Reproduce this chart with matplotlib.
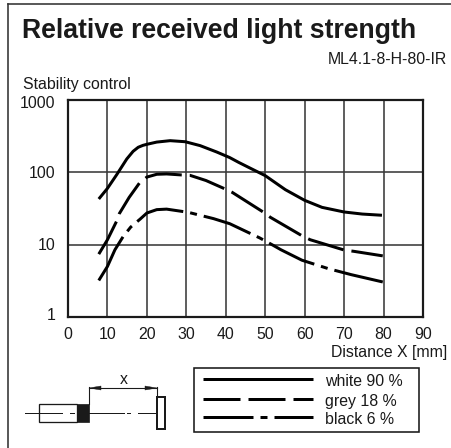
import matplotlib
matplotlib.use("Agg")
import matplotlib.pyplot as plt
from matplotlib.patches import Rectangle, Polygon
from matplotlib.transforms import ScaledTranslation

plt.rcParams['font.family'] = ['Liberation Sans', 'DejaVu Sans']
plt.rcParams['lines.scale_dashes'] = False

W, H = 452, 448
INK = '#1a1a1a'

title = 'Relative received light strength'
subtitle = 'ML4.1-8-H-80-IR'
ylabel = 'Stability control'
xlabel = 'Distance X [mm]'
xticks = [0, 10, 20, 30, 40, 50, 60, 70, 80, 90]
yticks = [1, 10, 100, 1000]
ytick_labels = ['1', '10', '100', '1000']
legend_labels = ['white 90 %', 'grey 18 %', 'black 6 %']

white_x = [7.8, 10, 12.3, 14.9, 16.5, 17.8, 19, 20, 22.5, 25.9, 29.7, 33.5, 37.7, 41, 43.3, 46.5, 50, 55.1, 60, 64.4, 70, 74.6, 79.6]
white_y = [42.8, 60, 92, 153, 195, 222, 236, 244, 262, 274, 265, 234, 191, 160, 137, 112, 90, 57.6, 41, 32.8, 28.3, 26.5, 25.5]
grey_x = [7.8, 10, 12.3, 13, 15.5, 18.1, 20, 22.5, 25, 28.8, 30.9, 35, 39.8, 41.6, 49.6, 51.3, 59.3, 61.4, 70.1, 72.4, 79.8]
grey_y = [7.4, 11.7, 21, 26.8, 45, 71, 86, 94, 95, 92, 91, 77, 59, 53, 28, 23.9, 13.3, 11.7, 8.4, 8.1, 7]
black_x = [7.8, 10, 11.9, 14, 15.9, 18.3, 20, 22.5, 25, 30.5, 36.9, 41, 48.6, 52, 54, 59.3, 66, 71.8, 79.8]
black_y = [3.2, 5, 8.5, 13, 17.5, 22.6, 27.4, 30.5, 31, 28, 22.9, 19.5, 12.4, 9.8, 8.5, 6.1, 4.66, 3.85, 3.05]

px = 72 / 100
solid = '-'
grey_style = (0, (37 * px, 8 * px))
black_style = (0, (50 * px, 7 * px, 7 * px, 7 * px))
LW = 3 * px
FS = 11.4

fig = plt.figure(figsize=(W / 100, H / 100), dpi=100, facecolor='white')

ov = fig.add_axes([0, 0, 1, 1])
ov.set_xlim(0, W)
ov.set_ylim(H, 0)
ov.axis('off')

L, R, T, B = 68, 423, 100, 317
ax = fig.add_axes([L / W, 1 - B / H, (R - L) / W, (B - T) / H])
ax.set_xlim(0, 90)
ax.set_yscale('log')
ax.set_ylim(1, 1000)
ax.set_xticks(xticks)
ax.set_yticks(yticks)
ax.set_yticklabels(ytick_labels)
ax.minorticks_off()
ax.tick_params(length=0, labelsize=FS, pad=7, colors=INK)
ax.tick_params(axis='y', pad=9)
ax.grid(True, color='#3a3a3a', lw=1.6 * px)
ax.set_axisbelow(True)
for s in ax.spines.values():
    s.set_linewidth(2.2 * px)
    s.set_color(INK)
# the value labels sit slightly inside the plot's vertical extent
for lab, shift in zip(ax.get_yticklabels(), [3, 1, 0, -2]):
    lab.set_transform(lab.get_transform() + ScaledTranslation(0, shift / 100, fig.dpi_scale_trans))

for xs, ys, st in [(white_x, white_y, solid), (grey_x, grey_y, grey_style), (black_x, black_y, black_style)]:
    ax.plot(xs, ys, color='black', lw=LW, ls=st, dash_capstyle='butt', solid_capstyle='butt', dash_joinstyle='round', solid_joinstyle='round')

ov.text(22, 31, title, fontsize=19.2, fontweight='bold', color=INK, va='center', ha='left')
ov.text(447, 59, subtitle, fontsize=FS, color=INK, va='center', ha='right')
ov.text(23, 85, ylabel, fontsize=FS, color=INK, va='center', ha='left')
ov.text(447, 352, xlabel, fontsize=FS, color=INK, va='center', ha='right')

ov.add_patch(Rectangle((194, 368), 225, 64, fc='white', ec=INK, lw=1.6 * px))
for y, st, lab in zip([379, 399, 417], [solid, grey_style, black_style], legend_labels):
    ov.plot([203, 313], [y, y], color='black', lw=LW, ls=st, dash_capstyle='butt', solid_capstyle='butt')
    ov.text(325, y + 2.5, lab, fontsize=FS, color=INK, va='center', ha='left')

# sensor sketch
ov.plot([25, 62], [413, 413], color=INK, lw=1 * px)
ov.plot([70, 74], [413, 413], color=INK, lw=1 * px)
ov.plot([89, 124], [413, 413], color=INK, lw=1 * px)
ov.plot([127, 130], [413, 413], color=INK, lw=1 * px)
ov.plot([138, 157], [413, 413], color=INK, lw=1 * px)
ov.add_patch(Rectangle((39, 404), 38, 18, fc='none', ec=INK, lw=1.3 * px))
ov.add_patch(Rectangle((77, 404), 12, 18, fc=INK, ec=INK, lw=0.7 * px))
ov.add_patch(Rectangle((157, 397), 8, 32, fc='white', ec=INK, lw=2 * px))
ov.plot([89, 89], [387, 404], color=INK, lw=1.1 * px)
ov.plot([157, 157], [387, 397], color=INK, lw=1.1 * px)
ov.plot([89, 157], [388, 388], color=INK, lw=1.1 * px)
ov.add_patch(Polygon([(89, 388), (101, 386), (101, 390)], fc=INK, ec=INK, lw=0.3))
ov.add_patch(Polygon([(157, 388), (145, 386), (145, 390)], fc=INK, ec=INK, lw=0.3))
ov.text(124, 380, 'x', fontsize=FS, color=INK, va='center', ha='center')

ov.plot([8, 8], [H, 4], color='#333333', lw=1.6 * px)
ov.plot([8, W], [4, 4], color='#333333', lw=1.6 * px)

fig.savefig('out.png', dpi=100)
